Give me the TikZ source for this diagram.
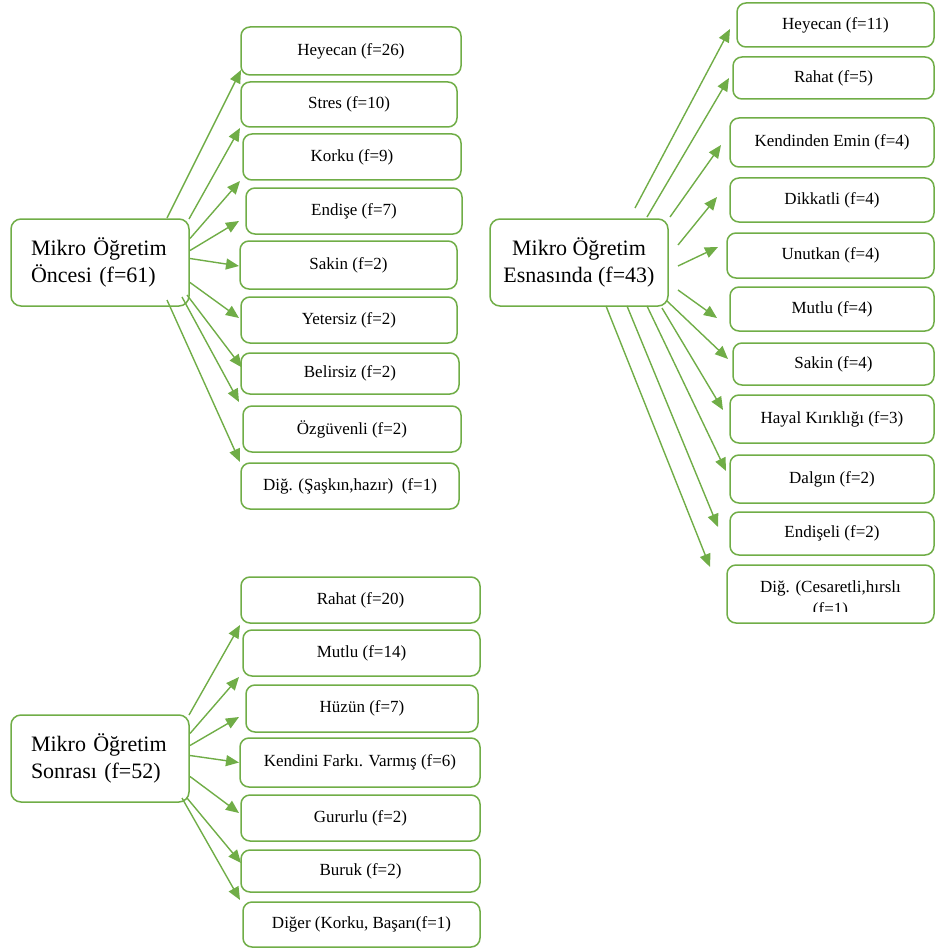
\documentclass[tikz,border=0pt]{standalone}
\usepackage{fontspec}
\setmainfont{Liberation Serif}
\usetikzlibrary{calc,arrows.meta}

\definecolor{boxgreen}{HTML}{70AD47}

\tikzset{
  mainbox/.style={draw=boxgreen, line width=1.5pt, rounded corners=10pt, inner sep=0pt, outer sep=0pt,
    minimum width=178pt, minimum height=87pt, font=\fontsize{22}{27}\selectfont},
  leafbox/.style={draw=boxgreen, line width=1.5pt, rounded corners=9pt, inner sep=0pt, outer sep=0pt,
    font=\fontsize{17}{20}\selectfont},
  arr/.style={draw=boxgreen, line width=1.4pt, -{Triangle[length=13pt,width=11pt]}}
}

\begin{document}
\begin{tikzpicture}[x=1pt,y=-1pt]
\useasboundingbox (0,0) rectangle (935,952);

% Mikro Ogretim Oncesi
\node[mainbox, text width=138pt, align=left] (onc) at (100,262.5) {Mikro Öğretim\\Öncesi (f=61)};

\node[leafbox, minimum width=220pt, minimum height=48pt] (hey) at (351,51) {Heyecan (f=26)};
\node[leafbox, minimum width=216pt, minimum height=45pt] (str) at (349,104.5) {Stres (f=10)};
\node[leafbox, minimum width=218pt, minimum height=46pt] (kor) at (352,157) {Korku (f=9)};
\node[leafbox, minimum width=216pt, minimum height=46pt] (ends) at (354,211) {Endişe (f=7)};
\node[leafbox, minimum width=217pt, minimum height=48pt] (sak) at (348.5,265) {Sakin (f=2)};
\node[leafbox, minimum width=216pt, minimum height=46pt] (yet) at (349,320) {Yetersiz (f=2)};
\node[leafbox, minimum width=218pt, minimum height=41pt] (bel) at (350,373.5) {Belirsiz (f=2)};
\node[leafbox, minimum width=218pt, minimum height=46pt] (ozg) at (352,429) {Özgüvenli (f=2)};
\node[leafbox, minimum width=218pt, minimum height=46pt] (dig) at (350,486) {Diğ. (Şaşkın,hazır)~ (f=1)};

\draw[arr] ($(onc.north east)+(-22,-1)$) -- ($(hey.south west)+(0,-5)$);
\draw[arr] (onc.north east) -- ($(str.south west)+(-1,1)$);
\draw[arr] ($(onc.east)+(1,-24)$) -- ($(kor.south west)+(-3,1)$);
\draw[arr] ($(onc.east)+(1,-12)$) -- ($(ends.west)+(-7,10)$);
\draw[arr] ($(onc.east)+(1,-4)$) -- ($(sak.west)+(-1,1)$);
\draw[arr] ($(onc.east)+(1,20)$) -- ($(yet.west)+(-2,-2)$);
\draw[arr] ($(onc.south east)+(-2,-11)$) -- ($(bel.west)+(1,-6)$);
\draw[arr] ($(onc.south east)+(-7,-9)$) -- ($(ozg.north west)+(-4,-4)$);
\draw[arr] ($(onc.south east)+(-22,-6)$) -- ($(dig.north west)+(-1,-1)$);

% Mikro Ogretim Esnasinda
\node[mainbox, align=center] (esn) at (579,262.5) {Mikro Öğretim\\Esnasında (f=43)};

\node[leafbox, minimum width=197pt, minimum height=44pt] (hey2) at (835.5,25) {Heyecan (f=11)};
\node[leafbox, minimum width=201pt, minimum height=42pt] (rah) at (833.5,78) {Rahat (f=5)};
\node[leafbox, minimum width=204pt, minimum height=49pt] (ken) at (832,142.5) {Kendinden Emin (f=4)};
\node[leafbox, minimum width=204pt, minimum height=44pt] (dik) at (832,200) {Dikkatli (f=4)};
\node[leafbox, minimum width=207pt, minimum height=45pt] (unu) at (830.5,255.5) {Unutkan (f=4)};
\node[leafbox, minimum width=204pt, minimum height=44pt] (mut) at (832,309) {Mutlu (f=4)};
\node[leafbox, minimum width=201pt, minimum height=42pt] (sak2) at (833.5,364) {Sakin (f=4)};
\node[leafbox, minimum width=204pt, minimum height=48pt] (hay) at (832,419) {Hayal Kırıklığı (f=3)};
\node[leafbox, minimum width=204pt, minimum height=48pt] (dal) at (832,479) {Dalgın (f=2)};
\node[leafbox, minimum width=204pt, minimum height=43pt] (endl) at (832,533.5) {Endişeli (f=2)};
\node[leafbox, minimum width=207pt, minimum height=58pt] (dig2) at (830.5,594) {};
\node[font=\fontsize{17}{20}\selectfont, anchor=base, inner sep=0pt] (dig2a) at (830.5,592) {Diğ. (Cesaretli,hırslı};
\begin{scope}
  \clip (727,565) rectangle (934,611);
  \node[font=\fontsize{17}{20}\selectfont, anchor=base, inner sep=0pt] (dig2b) at (830.5,614) {(f=1)};
\end{scope}

\draw[arr] ($(esn.north east)+(-33,-11)$) -- ($(hey2.west)+(-7,4)$);
\draw[arr] ($(esn.north east)+(-21,-2)$) -- ($(rah.west)+(-4,0)$);
\draw[arr] ($(esn.north east)+(2,-2)$) -- ($(ken.west)+(-9,2.5)$);
\draw[arr] ($(esn.east)+(10,-17.5)$) -- ($(dik.west)+(-13,-3)$);
\draw[arr] ($(esn.east)+(10,3.5)$) -- ($(unu.west)+(-9,-8.5)$);
\draw[arr] ($(esn.east)+(10,27.5)$) -- ($(mut.west)+(-13,9)$);
\draw[arr] ($(esn.south east)+(-1,-5)$) -- ($(sak2.west)+(-5,-5)$);
\draw[arr] ($(esn.south east)+(-6,2)$) -- ($(hay.west)+(-7,-9)$);
\draw[arr] ($(esn.south east)+(-21,0)$) -- ($(dal.west)+(-4,-8)$);
\draw[arr] ($(esn.south east)+(-41,0)$) -- ($(endl.west)+(-12,-6.5)$);
\draw[arr] ($(esn.south east)+(-62,0)$) -- ($(dig2.north west)+(-17,2)$);

% Mikro Ogretim Sonrasi
\node[mainbox, text width=138pt, align=left] (son) at (100,758.5) {Mikro Öğretim\\Sonrası (f=52)};

\node[leafbox, minimum width=239pt, minimum height=46pt] (rah3) at (360.5,600) {Rahat (f=20)};
\node[leafbox, minimum width=237pt, minimum height=46pt] (mut3) at (361.5,653) {Mutlu (f=14)};
\node[leafbox, minimum width=232pt, minimum height=47pt] (huz) at (362,708.5) {Hüzün (f=7)};
\node[leafbox, minimum width=240pt, minimum height=49pt] (ken3) at (360,762.5) {Kendini Farkı. Varmış (f=6)};
\node[leafbox, minimum width=239pt, minimum height=46pt] (gur) at (360.5,818) {Gururlu (f=2)};
\node[leafbox, minimum width=239pt, minimum height=42pt] (bur) at (360.5,871) {Buruk (f=2)};
\node[leafbox, minimum width=237pt, minimum height=45pt] (dig3) at (361.5,924.5) {Diğer (Korku, Başarı(f=1)};

\draw[arr] (son.north east) -- ($(rah3.south west)+(-1,2)$);
\draw[arr] ($(son.east)+(1,-25)$) -- ($(mut3.south west)+(-4,1)$);
\draw[arr] ($(son.east)+(1,-13)$) -- ($(huz.west)+(-7,8.5)$);
\draw[arr] ($(son.east)+(1,-3)$) -- ($(ken3.west)+(-1,0)$);
\draw[arr] ($(son.east)+(1,18)$) -- ($(gur.west)+(-2,-5)$);
\draw[arr] ($(son.south east)+(-2,-4)$) -- ($(bur.west)+(0,-8)$);
\draw[arr] ($(son.south east)+(-7,-4)$) -- ($(dig3.north west)+(-3,-2)$);

\end{tikzpicture}
\end{document}
